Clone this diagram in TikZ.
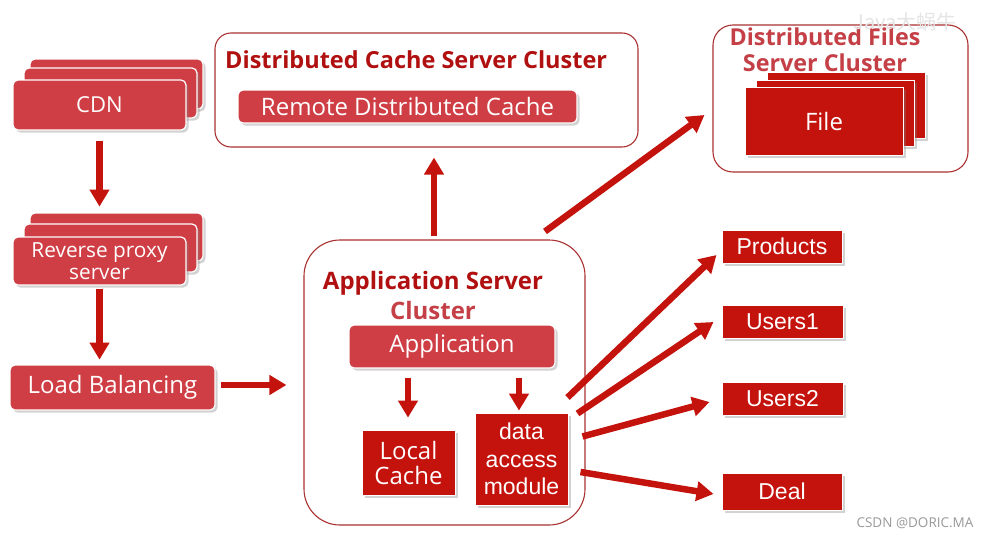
\documentclass[tikz,border=0pt]{standalone}
\usepackage{fontspec}
\setmainfont{Open Sans}
\newfontfamily\arialf{Liberation Sans}
\newfontfamily\cjk{Noto Sans CJK SC}
\usetikzlibrary{arrows.meta,shadows,calc}
\definecolor{darkred}{RGB}{196,18,12}
\definecolor{litered}{RGB}{207,62,68}
\definecolor{titlered}{RGB}{176,16,16}
\definecolor{title2}{RGB}{196,64,70}
\definecolor{edgered}{RGB}{170,50,50}
\tikzset{
  sh/.style={drop shadow={shadow xshift=2.5pt,shadow yshift=-2.5pt,opacity=0.35,fill=gray}},
  litebox/.style={fill=litered,draw=white,line width=1.2pt,rounded corners=5pt,text=white,inner sep=0pt,sh},
  darkbox/.style={fill=darkred,draw=white,line width=1pt,text=white,inner sep=0pt,sh,align=center},
  cluster/.style={draw=edgered,line width=1.1pt,fill=white,inner sep=0pt},
  ttl/.style={text=titlered,font=\bfseries\fontsize{23.5}{26}\selectfont,inner sep=0pt},
  arr/.style={draw=darkred,line width=6.5pt,-{Triangle[width=19pt,length=17pt]}},
  txtL/.style={font=\fontsize{24}{26}\selectfont},
  txtA/.style={font=\arialf\fontsize{23}{26}\selectfont},
}
\begin{document}
\begin{tikzpicture}[x=1pt,y=-1pt]
\useasboundingbox[fill=white] (0,0) rectangle (988,538);
% CDN stack
\node[litebox,minimum width=173,minimum height=50] (cdnc) at (116.5,84) {};
\node[litebox,minimum width=173,minimum height=50] (cdnb) at (110.5,93) {};
\node[litebox,minimum width=173,minimum height=50,font=\fontsize{22}{24}\selectfont] (cdn) at (99.5,105) {CDN};
% reverse proxy stack
\node[litebox,minimum width=173,minimum height=48] (rpc) at (116.5,237) {};
\node[litebox,minimum width=173,minimum height=48] (rpb) at (110.5,248) {};
\node[litebox,minimum width=173,minimum height=48,align=center,font=\fontsize{20.8}{22}\selectfont] (rp) at (99.5,261) {Reverse proxy\\server};
% load balancing
\node[litebox,minimum width=205,minimum height=45,txtL] (lb) at (112.5,387.5) {Load Balancing};
% distributed cache cluster
\node[cluster,rounded corners=16pt,minimum width=423,minimum height=114] (cachec) at (426.5,90) {};
\node[ttl,anchor=west] (cachet) at (225,60) {Distributed Cache Server Cluster};
\node[litebox,minimum width=339,minimum height=33,txtL] (remote) at (407.5,106.5) {Remote Distributed Cache};
% application server cluster
\node[cluster,rounded corners=36pt,minimum width=281,minimum height=285] (appc) at (444.5,382.5) {};
\node[ttl,font=\bfseries\fontsize{24}{26}\selectfont] (appt1) at (433,283) {Application Server};
\node[ttl,text=title2,font=\bfseries\fontsize{24}{26}\selectfont] (appt2) at (433,310) {Cluster};
\node[litebox,minimum width=206,minimum height=43,txtL] (app) at (452,346.5) {Application};
\node[darkbox,minimum width=93,minimum height=65,font=\fontsize{24}{25}\selectfont] (local) at (408.5,462.5) {Local\\Cache};
\node[darkbox,minimum width=93,minimum height=92,font=\arialf\fontsize{23}{27.5}\selectfont] (dam) at (521.5,459) {data\\access\\module};
% distributed files cluster
\node[cluster,rounded corners=20pt,minimum width=255,minimum height=147] (filesc) at (840.5,98.5) {};
\node[darkbox,minimum width=158,minimum height=66] (filec) at (846,105) {};
\node[darkbox,minimum width=158,minimum height=66] (fileb) at (835,113) {};
\node[darkbox,minimum width=158,minimum height=68,txtL] (file) at (824,121) {File};
\node[ttl,text=title2,align=center,font=\bfseries\fontsize{23.3}{26}\selectfont] (filest) at (825,50) {Distributed Files\\Server Cluster};
% data stores
\node[darkbox,minimum width=120,minimum height=33,txtA] (products) at (782,246.5) {Products};
\node[darkbox,minimum width=121,minimum height=33,txtA] (users1) at (782.5,321.5) {Users1};
\node[darkbox,minimum width=121,minimum height=33,txtA] (users2) at (782.5,398.5) {Users2};
\node[darkbox,minimum width=120,minimum height=37,txtA] (deal) at (782,491.5) {Deal};
% arrows
\draw[arr] ([yshift=-10pt]cdn.south) -- ([yshift=-76pt]cdn.south);
\draw[arr] ([yshift=-3pt]rp.south) -- ([yshift=-74pt]rp.south);
\draw[arr] ([shift={(5,-2.5)}]lb.east) -- ([shift={(-17,2.5)}]appc.west);
\draw[arr] ([shift={(-10.5,-3)}]appc.north) -- ([shift={(7.5,10)}]cachec.south);
\draw[arr] ([shift={(100.5,-8)}]appc.north) -- ([shift={(-8,16.5)}]filesc.west);
\draw[arr] ([shift={(-44,9)}]app.south) -- ([shift={(-44,49)}]app.south);
\draw[arr] ([shift={(67,9)}]app.south) -- ([shift={(67,42)}]app.south);
\draw[arr] ([shift={(-1,-15)}]dam.north east) -- ([shift={(-5,8.5)}]products.west);
\draw[arr] ([shift={(9,1)}]dam.north east) -- ([shift={(-8,0.5)}]users1.west);
\draw[arr] ([shift={(14,24)}]dam.north east) -- ([shift={(-12,3.5)}]users2.west);
\draw[arr] ([shift={(12,13)}]dam.east) -- ([shift={(-8,2.5)}]deal.west);
% watermarks
\node[text=gray!20,font=\cjk\fontsize{20}{22}\selectfont,inner sep=0pt] (wm1) at (905,22) {Java大蜗牛};
\node[text=gray!80,font=\fontsize{13.5}{15}\selectfont,inner sep=0pt] (wm2) at (915,523) {CSDN @DORIC.MA};
\end{tikzpicture}
\end{document}
